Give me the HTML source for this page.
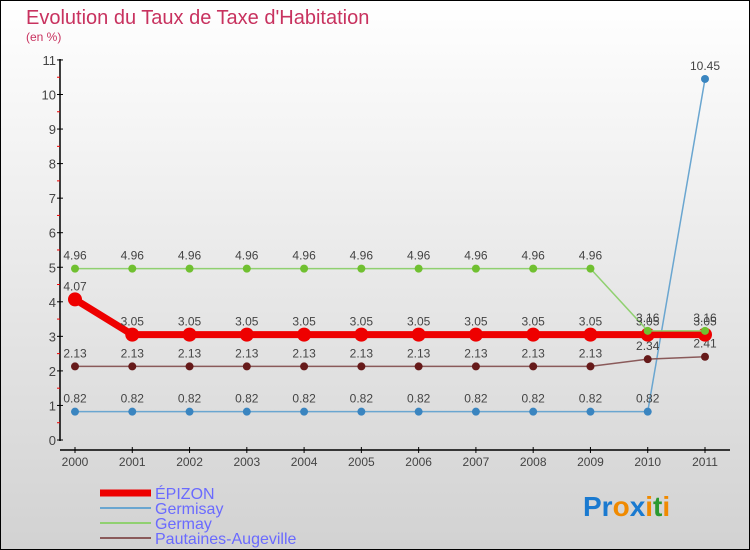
<!DOCTYPE html>
<html><head><meta charset="utf-8"><style>
body{margin:0}
#c{width:750px;height:550px;position:relative;overflow:hidden}
text{font-family:"Liberation Sans",sans-serif}
</style></head><body>
<div id="c">
<svg id="s" width="750" height="550" xmlns="http://www.w3.org/2000/svg">
<defs><linearGradient id="bg" x1="0" y1="0" x2="0" y2="1"><stop offset="0" stop-color="#ffffff"/><stop offset="1" stop-color="#d2d2d2"/></linearGradient></defs>
<rect x="0.5" y="0.5" width="749" height="549" fill="url(#bg)" stroke="#000"/>
<text x="26" y="24" font-size="20" fill="#c8325f">Evolution du Taux de Taxe d'Habitation</text>
<text x="26" y="41" font-size="12" fill="#c8325f">(en %)</text>
<g id="axes"></g><g id="series"></g>
<g>
<line x1="100" y1="493" x2="151" y2="493" stroke="#ee0000" stroke-width="7"/>
<text x="155" y="499" font-size="16" fill="#6a6aff">ÉPIZON</text>
<line x1="100" y1="508" x2="151" y2="508" stroke="#6aa6d0" stroke-width="2"/>
<text x="155" y="514" font-size="16" fill="#6a6aff">Germisay</text>
<line x1="100" y1="523" x2="151" y2="523" stroke="#90d070" stroke-width="2"/>
<text x="155" y="529" font-size="16" fill="#6a6aff">Germay</text>
<line x1="100" y1="538" x2="151" y2="538" stroke="#8a5a5a" stroke-width="2"/>
<text x="155" y="544" font-size="16" fill="#6a6aff">Pautaines-Augeville</text>
</g>
<g font-size="28" font-weight="bold">
<text x="583" y="516"><tspan fill="#1a7ad0">Pr</tspan><tspan fill="#f08a00">o</tspan><tspan fill="#1a7ad0">x</tspan><tspan fill="#f08a00">i</tspan><tspan fill="#2a9a30">t</tspan><tspan fill="#f08a00">i</tspan></text>
</g>
</svg></div>
<script>
const years=[2000,2001,2002,2003,2004,2005,2006,2007,2008,2009,2010,2011];
const epizon=[4.07,3.05,3.05,3.05,3.05,3.05,3.05,3.05,3.05,3.05,3.05,3.05];
const germisay=[0.82,0.82,0.82,0.82,0.82,0.82,0.82,0.82,0.82,0.82,0.82,10.45];
const germay=[4.96,4.96,4.96,4.96,4.96,4.96,4.96,4.96,4.96,4.96,3.16,3.16];
const pautaines=[2.13,2.13,2.13,2.13,2.13,2.13,2.13,2.13,2.13,2.13,2.34,2.41];
const yTicks=[0,1,2,3,4,5,6,7,8,9,10,11];
const NS="http://www.w3.org/2000/svg";
const x=i=>75+i*(630/11);
const y=v=>440-v*34.55;
function mk(p,t,a){const e=document.createElementNS(NS,t);for(const k in a)e.setAttribute(k,a[k]);p.appendChild(e);return e;}
const ax=document.getElementById('axes');
let l=mk(ax,'line',{x1:60,y1:59,x2:60,y2:441,stroke:'#000','stroke-width':1.5});


l=mk(ax,'line',{x1:60,y1:450,x2:730,y2:450,stroke:'#000','stroke-width':1.5});


yTicks.forEach(v=>{
 let t=mk(ax,'line',{x1:57,y1:y(v),x2:63,y2:y(v),stroke:'#000'});
 
 
 if(v<11){let h=mk(ax,'line',{x1:57,y1:y(v+0.5),x2:60,y2:y(v+0.5),stroke:'#e00'});
 
 }
 let tx=mk(ax,'text',{x:56,y:y(v)+5,'font-size':13,fill:'#444','text-anchor':'end'});tx.textContent=v;
 
 
});
years.forEach((yr,i)=>{
 let t=mk(ax,'line',{x1:x(i),y1:447,x2:x(i),y2:453,stroke:'#000'});
 
 
 let tx=mk(ax,'text',{x:x(i),y:466,'font-size':12,fill:'#444','text-anchor':'middle'});tx.textContent=yr;
 
 
});
const sg=document.getElementById('series');
function series(name,data,color,lw,r,pc){
 const g=mk(sg,'g',{});
 
 
 const p=mk(g,'polyline',{points:data.map((v,i)=>x(i)+','+y(v)).join(' '),fill:'none',stroke:color,'stroke-width':lw,'stroke-linejoin':'round'});
 
 
 data.forEach((v,i)=>{
  const c=mk(g,'circle',{cx:x(i),cy:y(v),r:r,fill:pc});
  
  
  const t=mk(g,'text',{x:x(i),y:y(v)-9,'font-size':12,fill:'#444','text-anchor':'middle'});
  t.textContent=v.toFixed(2).replace(/0$/,'').replace(/\.$/,'');
  if(v.toFixed(2).endsWith('0')&&v%1!==0)t.textContent=v.toFixed(2);
  
  
 });
}
series('germisay',germisay,'#6aa6d0',1.5,4,'#3a85c0');
series('pautaines',pautaines,'#8a5a5a',1.5,4,'#661a1a');
series('epizon',epizon,'#ee0000',7,7,'#ee0000');
series('germay',germay,'#90d070',1.5,4,'#70c030');
</script>
</body></html>
